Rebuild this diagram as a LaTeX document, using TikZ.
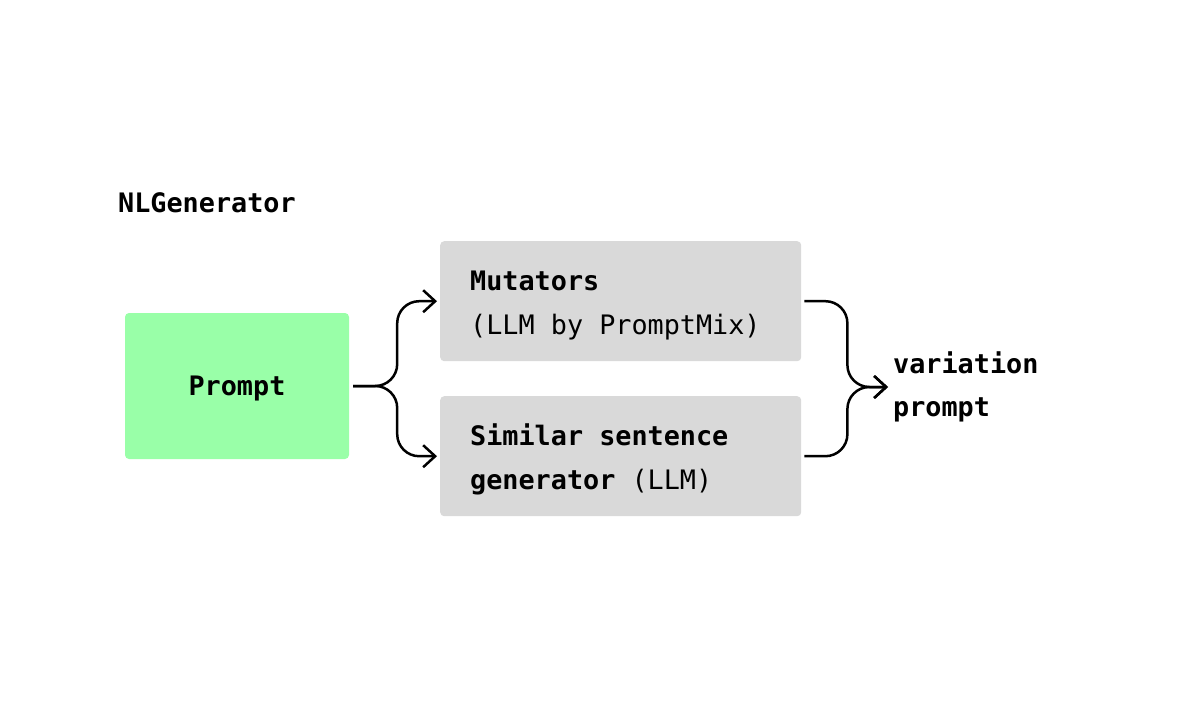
\documentclass[tikz,border=0pt]{standalone}
\usepackage{fontspec}
\setmonofont{DejaVu Sans Mono}
\usetikzlibrary{arrows.meta,positioning}
\definecolor{promptgreen}{RGB}{153,255,168}
\definecolor{boxgray}{RGB}{217,217,217}
\newcommand{\dfont}{\ttfamily\fontsize{26.8}{43.5}\selectfont}
\newcommand{\topgap}{\rule{0pt}{28pt}}

\begin{document}
\begin{tikzpicture}[x=1pt,y=-1pt,
  every node/.style={font=\dfont,execute at begin node={\spaceskip=0.602em\xspaceskip=0.602em\relax}},
  gbox/.style={fill=boxgray,rounded corners=4pt,minimum height=120pt,
    text width=301pt,inner xsep=30pt,inner ysep=0pt,align=left,anchor=north west},
  flow/.style={line width=2.5pt,rounded corners=22pt,
    -{Straight Barb[length=12pt,width=22pt]}}]
  \useasboundingbox (0,0) rectangle (1192,726);
  \node[anchor=base west,inner sep=0pt,font=\dfont\bfseries] (title) at (118,212) {NLGenerator};
  \node[fill=promptgreen,rounded corners=4pt,minimum width=224pt,minimum height=146pt,
    inner sep=0pt,text height=25pt,text depth=5.8pt,font=\dfont\bfseries] (prompt) at (237,386) {Prompt};
  \node[gbox] (mut) at (440,241) {\topgap\textbf{Mutators}\\(LLM by PromptMix)};
  \node[gbox] (sim) at (440,396) {\topgap\textbf{Similar sentence}\\\textbf{generator} (LLM)};
  \node[anchor=west,inner sep=0pt,align=left,font=\dfont\bfseries] (out) at (893,387) {variation\\prompt};
  % fan out / fan in
  \draw[flow,shorten <=4pt,shorten >=3pt] (prompt.east) -- ++(48,0) |- (mut.west);
  \draw[flow,shorten <=4pt,shorten >=3pt] (prompt.east) -- ++(48,0) |- (sim.west);
  \draw[flow,shorten <=3pt,shorten >=5pt] (mut.east) -- ++(46,0) |- (out.west);
  \draw[flow,shorten <=3pt,shorten >=5pt] (sim.east) -- ++(46,0) |- (out.west);
\end{tikzpicture}
\end{document}
